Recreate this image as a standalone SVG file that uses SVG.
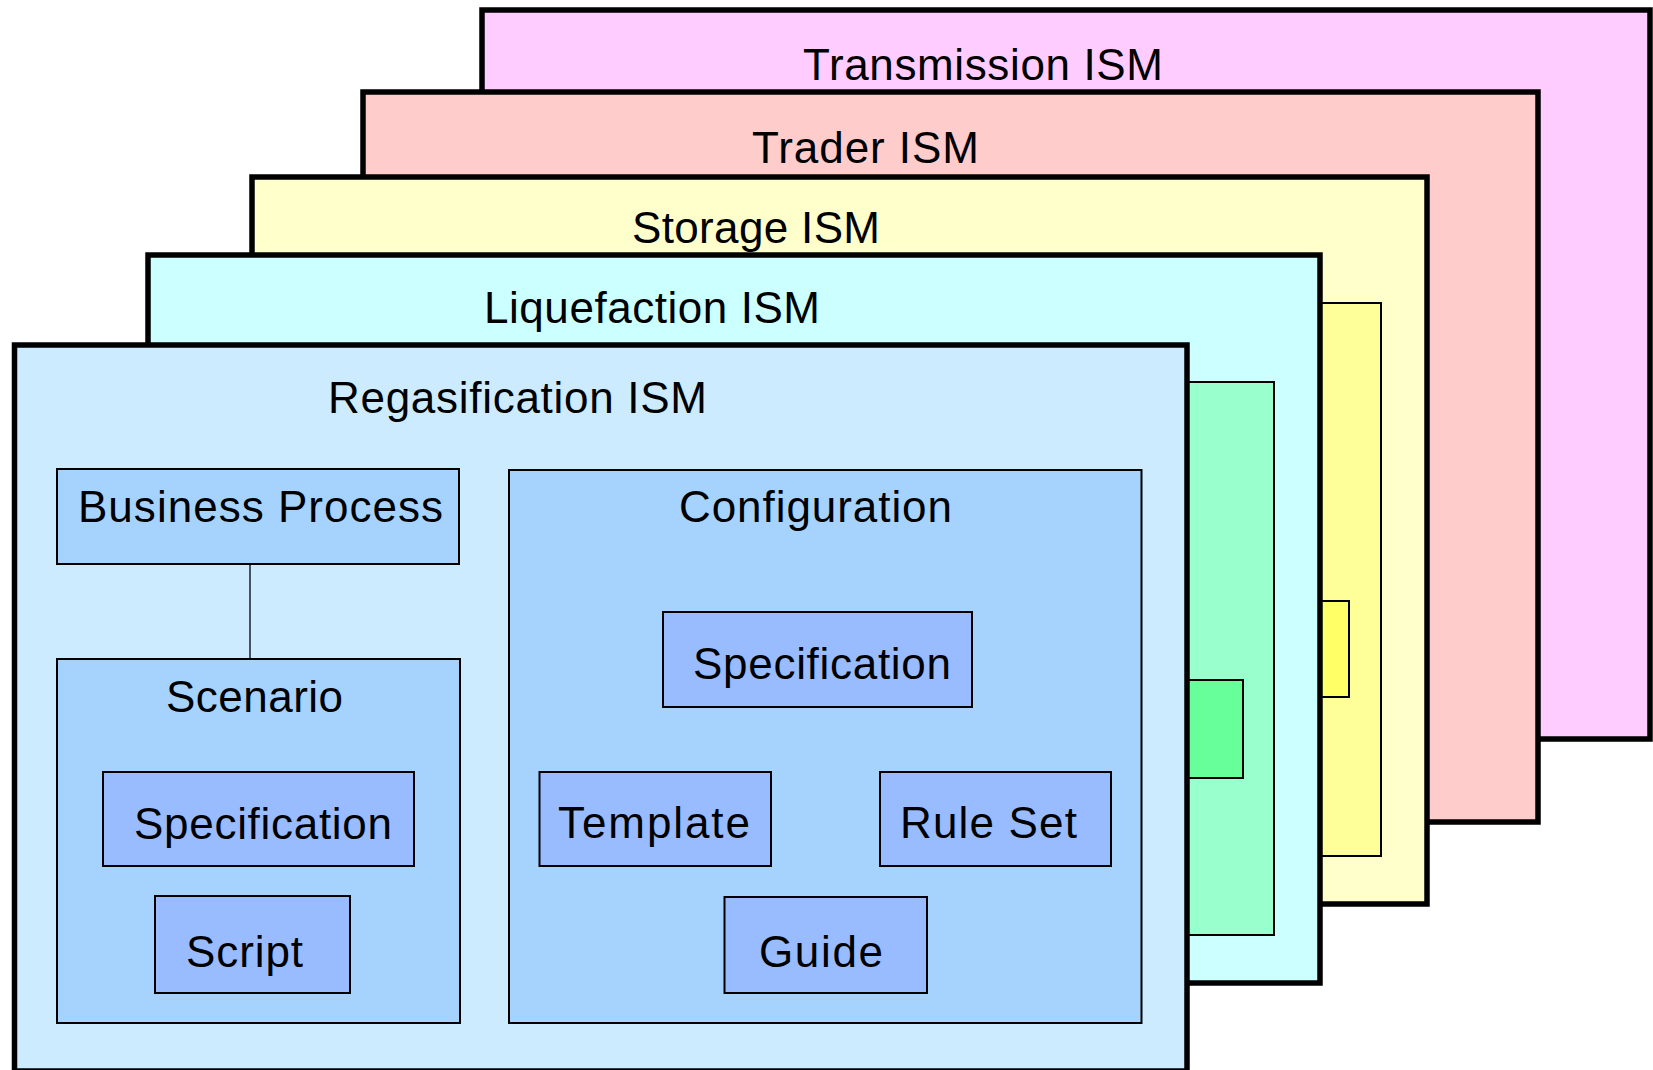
<svg xmlns="http://www.w3.org/2000/svg" width="1653" height="1070" viewBox="0 0 1653 1070">
<style>
.frame{stroke:#000;stroke-width:5.5}
.sub{stroke:#000;stroke-width:2}
.box{fill:#A6D3FE;stroke:#000;stroke-width:2}
.leaf{fill:#99BBFF;stroke:#000;stroke-width:2}
text{font-family:"Liberation Sans",Arial,sans-serif;font-size:44px;fill:#000}
.conn{stroke:#3a4250;stroke-width:1.8;fill:none}
</style>
<rect width="1653" height="1070" fill="#fff"/>
<g id="transmission">
<rect class="frame" x="482" y="10" width="1168" height="729" fill="#FFCCFF"/>
<text x="803" y="80" textLength="360">Transmission ISM</text>
</g>
<g id="trader">
<rect class="frame" x="363" y="92" width="1175" height="730" fill="#FFCCCC"/>
<text x="752" y="163" textLength="227">Trader ISM</text>
</g>
<g id="storage">
<rect class="frame" x="252" y="177" width="1175" height="727" fill="#FFFFCC"/>
<rect class="sub" x="1200" y="303" width="181" height="553" fill="#FFFF99"/>
<rect class="sub" x="1200" y="601" width="149" height="96" fill="#FFFF66"/>
<text x="632" y="243" textLength="248">Storage ISM</text>
</g>
<g id="liquefaction">
<rect class="frame" x="148" y="255" width="1172" height="728" fill="#CCFFFF"/>
<rect class="sub" x="1100" y="382" width="174" height="553" fill="#99FFCC"/>
<rect class="sub" x="1100" y="680" width="143" height="98" fill="#66FF99"/>
<text x="484" y="323" textLength="336">Liquefaction ISM</text>
</g>
<g id="regasification">
<rect class="frame" x="14.5" y="345" width="1172.5" height="726" fill="#CCEBFF"/>
<text x="328" y="413" textLength="379">Regasification ISM</text>
</g>
<g id="connectors">
<line class="conn" x1="250" y1="564" x2="250" y2="659"/>
<line class="conn" x1="824" y1="707" x2="654" y2="772"/>
<line class="conn" x1="824" y1="707" x2="1006" y2="772"/>
<line class="conn" x1="824" y1="707" x2="828" y2="897"/>
</g>
<g id="business-process">
<rect class="box" x="57" y="469" width="402" height="95"/>
<text x="78" y="522" textLength="365">Business Process</text>
</g>
<g id="scenario">
<rect class="box" x="57" y="659" width="403" height="364"/>
<text x="166" y="712" textLength="177">Scenario</text>
</g>
<g id="scenario-specification">
<rect class="leaf" x="103" y="772" width="311" height="94"/>
<text x="134" y="839" textLength="258">Specification</text>
</g>
<g id="script">
<rect class="leaf" x="155" y="896" width="195" height="97"/>
<text x="186" y="967" textLength="117">Script</text>
</g>
<g id="configuration">
<rect class="box" x="509" y="470" width="632.5" height="553"/>
<text x="679" y="522" textLength="273">Configuration</text>
</g>
<g id="config-specification">
<rect class="leaf" x="663" y="612" width="309" height="95"/>
<text x="693" y="679" textLength="258">Specification</text>
</g>
<g id="template">
<rect class="leaf" x="539.5" y="772" width="231.5" height="94"/>
<text x="558" y="838" textLength="192">Template</text>
</g>
<g id="rule-set">
<rect class="leaf" x="880" y="772" width="231" height="94"/>
<text x="900" y="838" textLength="177">Rule Set</text>
</g>
<g id="guide">
<rect class="leaf" x="724.5" y="897" width="202.5" height="96"/>
<text x="759" y="967" textLength="124">Guide</text>
</g>
</svg>
